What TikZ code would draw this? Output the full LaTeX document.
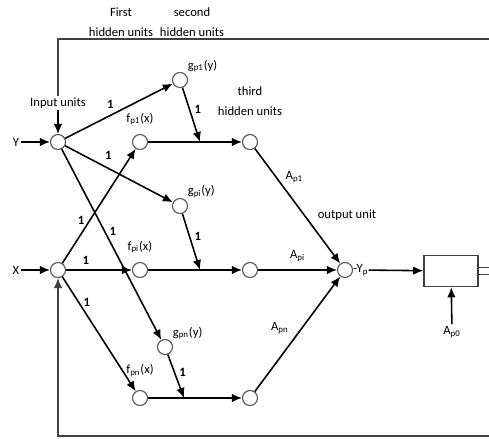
\documentclass[tikz,border=0pt]{standalone}
\usepackage{fontspec}
\setmainfont{Carlito}
\usetikzlibrary{arrows.meta}

\begin{document}
\begin{tikzpicture}[
    x=0.2mm, y=-0.2mm,
    unit/.style={
        circle, draw=black!65, line width=0.65pt,
        minimum size=3mm, inner sep=0pt,
    },
    conn/.style={
        -{Latex[length=2mm,width=1.7mm]}, line width=0.9pt,
    },
    wire/.style={ draw=black!75, line width=0.9pt, },
    lbl/.style={ font=\fontsize{7.2}{8}\selectfont, inner sep=1pt, },
    wt/.style={ font=\fontsize{7.2}{8}\selectfont\bfseries, inner sep=1.5pt, },
    head/.style={ font=\fontsize{7.2}{11.5}\selectfont, align=center, },
]
\useasboundingbox (0,0) rectangle (489,438);

% captions
\node[head] (first) at (121,22) {First\\hidden units};
\node[head] (second) at (192,22) {second\\hidden units};
\node[head] (third) at (250,101) {third\\hidden units};
\node[lbl] (inlab) at (58,103) {Input units};
\node[lbl] (outlab) at (347,215) {output unit};

% input units
\node[lbl] (ylab) at (16,142) {Y};
\node[lbl] (xlab) at (16,270) {X};
\node[unit] (y) at (58,142) {};
\node[unit] (x) at (58,270) {};

% hidden units
\node[unit, label={[lbl]above right:g\textsubscript{p1}(y)}] (g1) at (180,80) {};
\node[unit, label={[lbl]above right:g\textsubscript{pi}(y)}] (gi) at (180,206) {};
\node[unit, label={[lbl]above right:g\textsubscript{pn}(y)}] (gn) at (165,347) {};
\node[unit, label={[lbl,label distance=1.3mm]above:f\textsubscript{p1}(x)}] (f1) at (140,142) {};
\node[unit, label={[lbl,label distance=1.3mm]above:f\textsubscript{pi}(x)}] (fi) at (140,270) {};
\node[unit, label={[lbl,label distance=2.2mm]above:f\textsubscript{pn}(x)}] (fn) at (140,398) {};
\node[unit] (h1) at (250,142) {};
\node[unit] (hi) at (250,270) {};
\node[unit] (hn) at (250,398) {};
\coordinate (c1) at (200,142);
\coordinate (ci) at (200,270);
\coordinate (cn) at (184,398);

% output
\node[unit] (out) at (345,270) {};
\node[lbl, anchor=west, inner sep=0pt] (yp) at (out.east) {-Y\textsubscript{p}};
\node[draw=black!75, line width=0.9pt, minimum width=10.8mm, minimum height=6.2mm] (box) at (451,271) {};
\node[lbl] (ap0) at (452,332) {A\textsubscript{p0}};
\coordinate (tr) at (489,39);
\coordinate (br) at (489,436);
\coordinate (dr) at (489,271);

\draw[conn] (ylab) -- (y);
\draw[conn] (xlab) -- (x);
\draw[wire] (tr) -| (inlab);
\draw[conn] (inlab) -- (y);
\draw[conn, draw=black!75] (br) -| (x);

\draw[conn] (y) -- (g1) node[wt, pos=.42, above=2pt] {1};
\draw[conn] (y) -- (gi) node[wt, pos=.4, above=3pt] {1};
\draw[conn] (y) -- (gn) node[wt, pos=.43, right=1pt] {1};
\draw[conn] (x) -- (f1) node[wt, pos=.37, left=1pt] {1};
\draw[conn] (x) -- (fi) node[wt, pos=.3, above=1pt] {1};
\draw[conn] (x) -- (fn) node[wt, pos=.22, right=1pt] {1};

\foreach \k in {1,i,n} {
    \draw[conn] (f\k) -- (h\k);
    \draw[conn] (g\k) -- (c\k) node[wt, pos=.4, right=1pt] {1};
}

\draw[conn] (h1) -- (out) node[lbl, pos=.25, right=4pt] {A\textsubscript{p1}};
\draw[conn] (hi) -- (out) node[lbl, midway, above=3pt] {A\textsubscript{pi}};
\draw[conn] (hn) -- (out) node[lbl, pos=.55, left=6pt] {A\textsubscript{pn}};

\draw[conn] (yp) -- (box);
\draw[conn] (ap0) -- (box);
\draw[draw=black!75, double, line width=0.65pt, double distance=1.1mm] (box.east) -- (dr);
\end{tikzpicture}
\end{document}
